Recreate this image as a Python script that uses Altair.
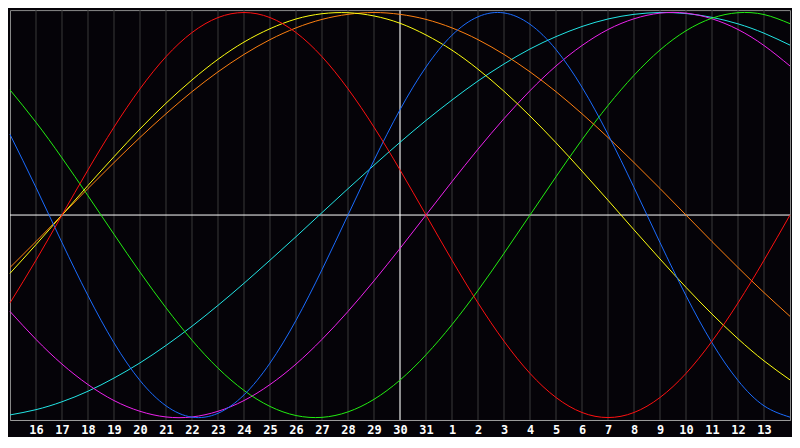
import altair as alt
import pandas as pd

# day index 0..30 (index 15 = today, the 30th)
days = list(range(31))
day_labels = ["16", "17", "18", "19", "20", "21", "22", "23", "24", "25", "26", "27",
              "28", "29", "30", "31", "1", "2", "3", "4", "5", "6", "7", "8", "9",
              "10", "11", "12", "13"]

blue = [0.398, 0.136, -0.136, -0.398, -0.631, -0.817, -0.942, -0.998, -0.979, -0.888,
        -0.731, -0.520, -0.270, 0.0, 0.270, 0.520, 0.731, 0.888, 0.979, 0.998, 0.942,
        0.817, 0.631, 0.398, 0.136, -0.136, -0.398, -0.631, -0.817, -0.942, -0.998]
red = [-0.434, -0.223, 0.0, 0.223, 0.434, 0.623, 0.782, 0.901, 0.975, 1.0, 0.975,
       0.901, 0.782, 0.623, 0.434, 0.223, 0.0, -0.223, -0.434, -0.623, -0.782, -0.901,
       -0.975, -1.0, -0.975, -0.901, -0.782, -0.623, -0.434, -0.223, 0.0]
green = [0.618, 0.458, 0.282, 0.095, -0.095, -0.282, -0.458, -0.618, -0.756, -0.866,
         -0.945, -0.990, -0.999, -0.972, -0.910, -0.815, -0.690, -0.541, -0.372, -0.189,
         0.0, 0.189, 0.372, 0.541, 0.690, 0.815, 0.910, 0.972, 0.999, 0.990, 0.945]
magenta = [-0.476, -0.614, -0.736, -0.837, -0.916, -0.969, -0.997, -0.997, -0.969,
           -0.916, -0.837, -0.736, -0.614, -0.476, -0.325, -0.165, 0.0, 0.165, 0.325,
           0.476, 0.614, 0.736, 0.837, 0.916, 0.969, 0.997, 0.997, 0.969, 0.916, 0.837,
           0.736]
yellow = [-0.288, -0.146, 0.0, 0.146, 0.288, 0.425, 0.552, 0.667, 0.769, 0.854, 0.920,
          0.968, 0.994, 0.999, 0.983, 0.947, 0.889, 0.814, 0.720, 0.611, 0.489, 0.357,
          0.217, 0.073, -0.073, -0.217, -0.357, -0.489, -0.611, -0.720, -0.814]
orange = [-0.259, -0.131, 0.0, 0.131, 0.259, 0.383, 0.5, 0.609, 0.707, 0.793, 0.866,
          0.924, 0.966, 0.991, 1.0, 0.991, 0.966, 0.924, 0.866, 0.793, 0.707, 0.609, 0.5,
          0.383, 0.259, 0.131, 0.0, -0.131, -0.259, -0.383, -0.5]
cyan = [-0.987, -0.961, -0.922, -0.870, -0.805, -0.730, -0.644, -0.549, -0.446, -0.337,
        -0.223, -0.107, 0.012, 0.130, 0.246, 0.359, 0.467, 0.568, 0.662, 0.746, 0.820,
        0.881, 0.931, 0.968, 0.991, 1.0, 0.995, 0.976, 0.944, 0.898, 0.839]

series = {"cyan": cyan, "magenta": magenta, "green": green, "orange": orange,
          "yellow": yellow, "blue": blue, "red": red}
colors = {"cyan": "#22e6e6", "magenta": "#ee22ee", "green": "#22ee11",
          "orange": "#ff8010", "yellow": "#ffff10", "blue": "#1a6cff", "red": "#ff1010"}

rows = []
for name, vals in series.items():
    for d, v in zip(days, vals):
        rows.append({"t": d, "v": v, "s": name})
df = pd.DataFrame(rows)

label_map = " : ".join(
    "datum.value == %d ? '%s'" % (i + 1, l) for i, l in enumerate(day_labels)
) + " : ''"

xscale = alt.Scale(domain=[0, 30], nice=False, zero=False)
yscale = alt.Scale(domain=[-1.012, 1.012], nice=False, zero=False)
xaxis = alt.Axis(
    values=list(range(1, 30)), labelExpr=label_map,
    grid=False, ticks=False, domain=True, domainColor="#9a9a9a",
    labelColor="white", labelFont="DejaVu Sans Mono", labelFontWeight="bold",
    labelFontSize=12, labelPadding=5, title=None, labelFlush=False)

grid = alt.Chart(pd.DataFrame({"t": list(range(1, 30))})).mark_rule(
    color="#3a3a3a", strokeWidth=1
).encode(x=alt.X("t:Q", scale=xscale, axis=xaxis))

lines = alt.Chart(df).mark_line(strokeWidth=1, interpolate="natural").encode(
    x=alt.X("t:Q", scale=xscale, axis=xaxis),
    y=alt.Y("v:Q", scale=yscale, axis=None),
    color=alt.Color("s:N", scale=alt.Scale(domain=list(colors.keys()),
                                           range=list(colors.values())), legend=None),
)

hline = alt.Chart(pd.DataFrame({"v": [0]})).mark_rule(color="white", strokeWidth=1).encode(
    y=alt.Y("v:Q", scale=yscale, axis=None))
vline = alt.Chart(pd.DataFrame({"t": [15]})).mark_rule(color="white", strokeWidth=1).encode(
    x=alt.X("t:Q", scale=xscale, axis=xaxis))

chart = alt.layer(grid, hline, vline, lines).properties(
    width=784, height=412, padding=0, background="#050308"
).configure_view(fill="#050308", stroke="#8a8a8a", strokeWidth=1)

chart.save("out.html", embed_options={"renderer": "svg", "actions": False})
